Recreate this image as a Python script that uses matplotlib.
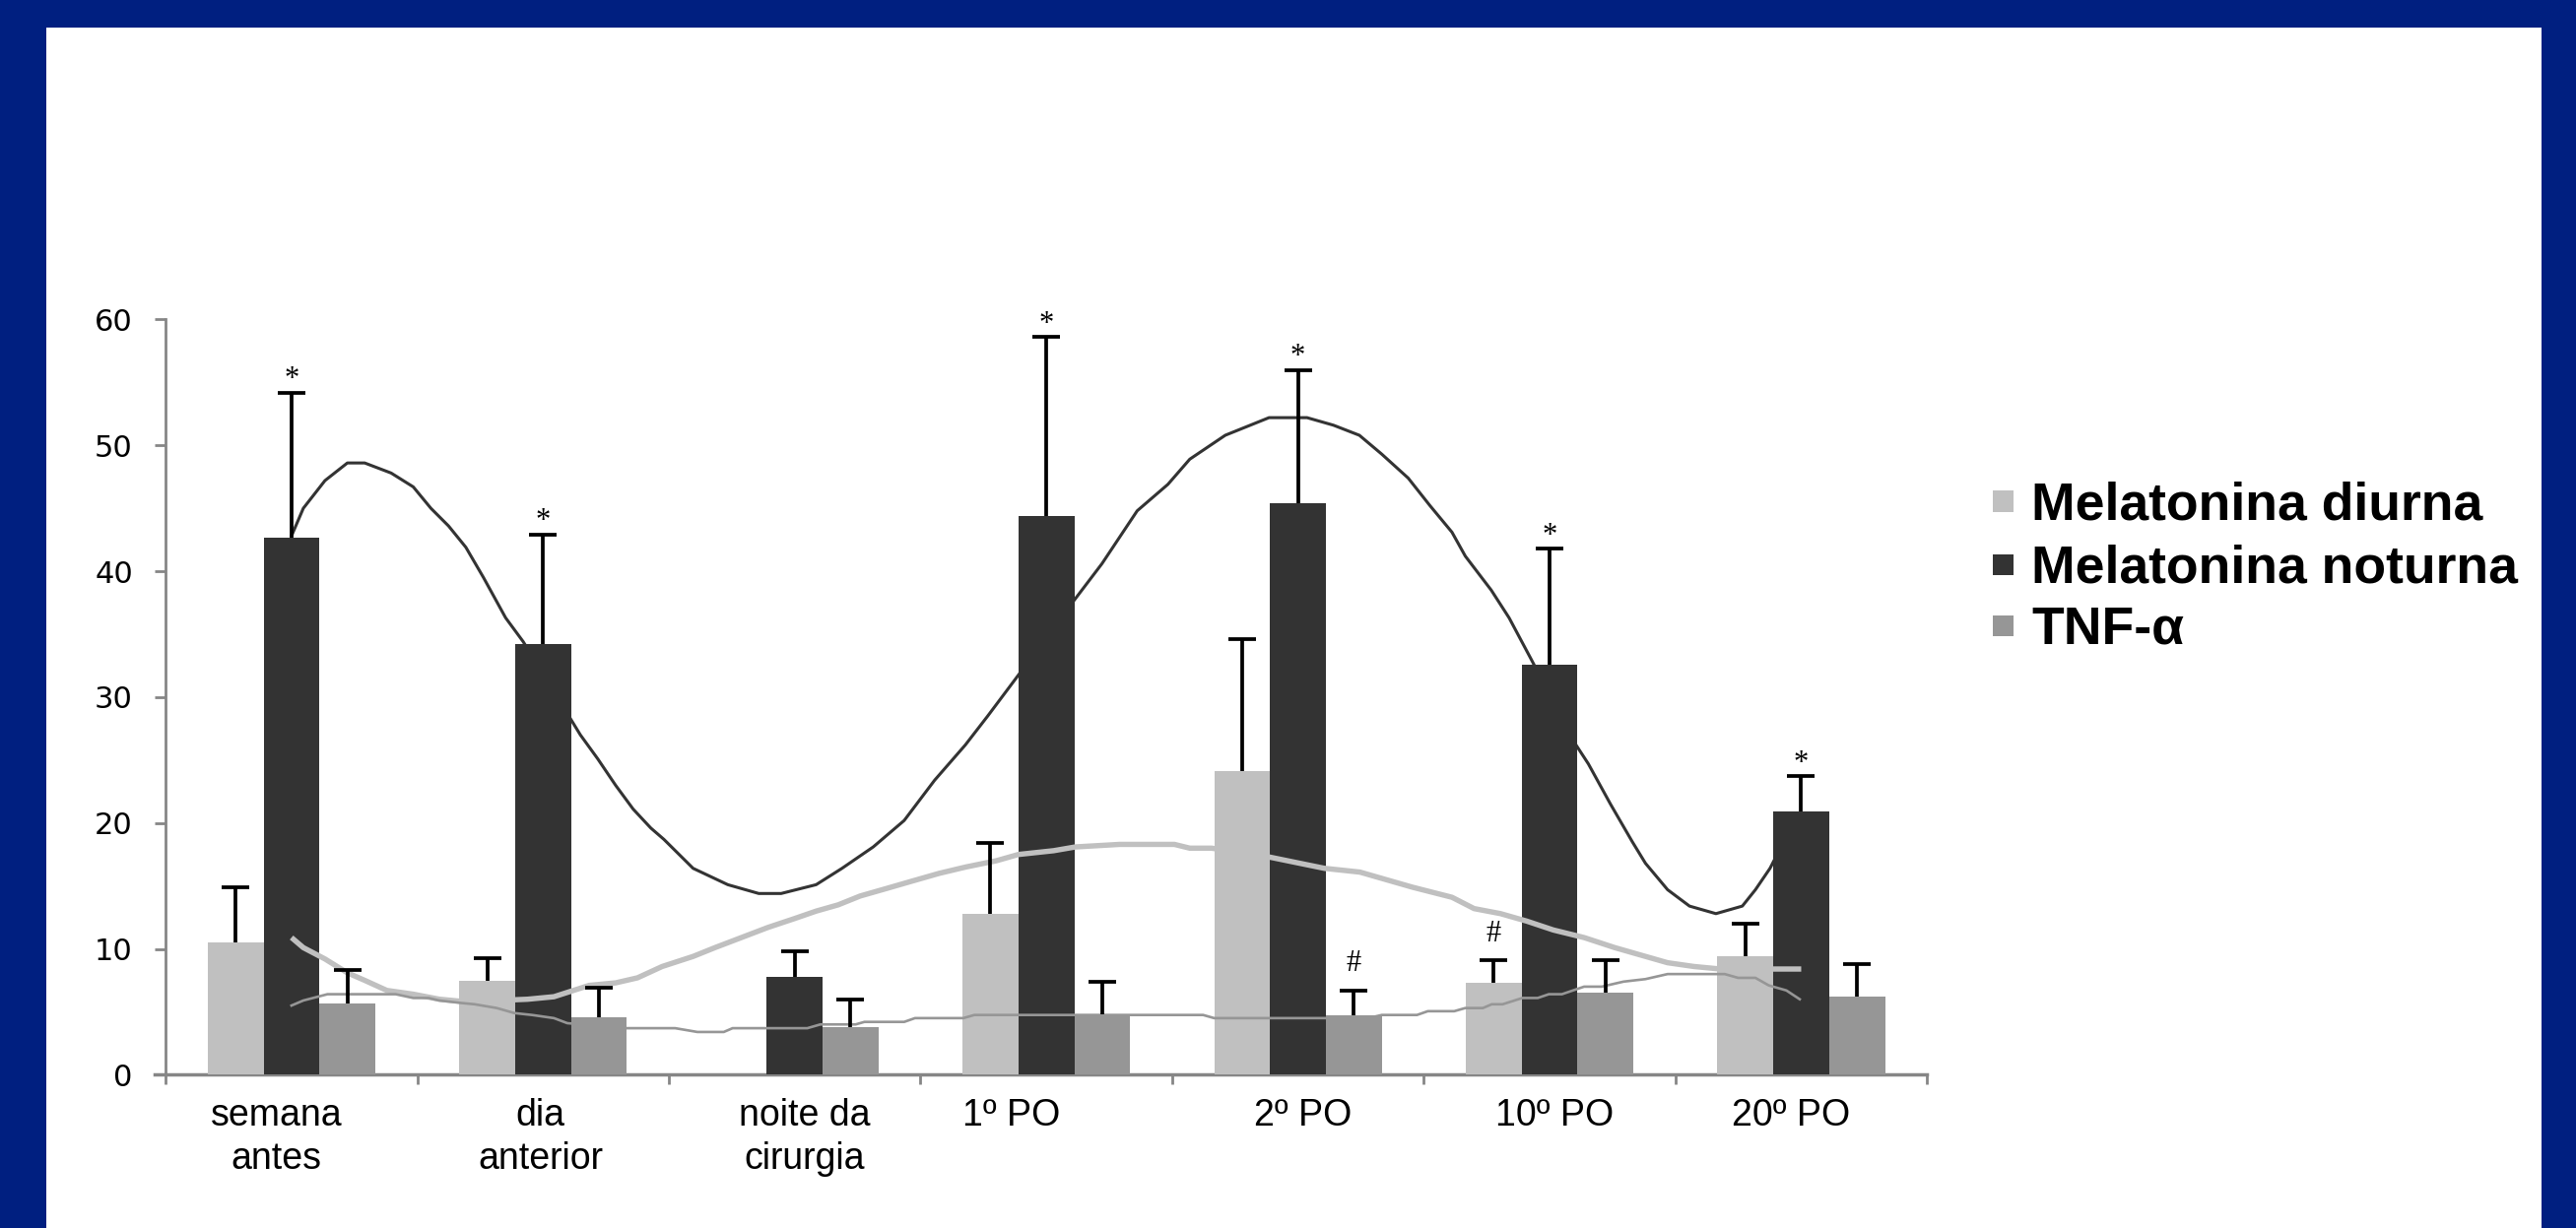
import numpy as np
import matplotlib
matplotlib.use('Agg')
import matplotlib.pyplot as plt
from matplotlib.patches import Rectangle

# dados
categorias = ['semana\nantes', 'dia\nanterior', 'noite da\ncirurgia', '1º PO', '2º PO', '10º PO', '20º PO']
mel_diurna = [10.5, 7.5, 0, 12.8, 24.1, 7.3, 9.4]
mel_diurna_err = [4.4, 1.8, 0, 5.6, 10.5, 1.8, 2.6]
mel_noturna = [42.7, 34.2, 7.8, 44.4, 45.4, 32.6, 20.9]
mel_noturna_err = [11.5, 8.7, 2.0, 14.2, 10.6, 9.2, 2.8]
tnf = [5.7, 4.6, 3.8, 4.8, 4.7, 6.5, 6.2]
tnf_err = [2.6, 2.3, 2.2, 2.6, 2.0, 2.6, 2.6]

legendas = ['Melatonina diurna', 'Melatonina noturna', 'TNF-α']

# simbolos de significancia: serie (0 diurna, 1 noturna, 2 tnf), categoria, simbolo
marcas_serie = [1, 1, 1, 1, 1, 1, 2, 0]
marcas_cat = [0, 1, 3, 4, 5, 6, 4, 5]
marcas_sim = ['*', '*', '*', '*', '*', '*', '#', '#']

# linhas de tendencia (x em unidades de categoria)
noturna_x = [0.0, 0.047, 0.133, 0.222, 0.291, 0.396, 0.484, 0.554, 0.624, 0.693, 0.763, 0.851,
             0.921, 1.096, 1.148, 1.217, 1.288, 1.358, 1.428, 1.48, 1.596, 1.734, 1.857, 1.946,
             2.085, 2.188, 2.312, 2.435, 2.556, 2.678, 2.767, 2.872, 3.107, 3.221, 3.361, 3.483,
             3.57, 3.711, 3.885, 4.036, 4.141, 4.244, 4.333, 4.438, 4.525, 4.612, 4.665, 4.768,
             4.839, 4.927, 5.105, 5.154, 5.242, 5.329, 5.381, 5.469, 5.556, 5.661, 5.766, 5.818,
             5.876, 5.93]
noturna_y = [42.8, 45.0, 47.2, 48.6, 48.6, 47.8, 46.7, 45.0, 43.6, 41.9, 39.5, 36.3,
             34.4, 28.7, 27.0, 25.1, 23.0, 21.1, 19.6, 18.7, 16.4, 15.1, 14.4, 14.4,
             15.1, 16.4, 18.1, 20.2, 23.4, 26.2, 28.5, 31.3, 37.6, 40.6, 44.8, 46.9,
             48.9, 50.8, 52.2, 52.2, 51.6, 50.8, 49.3, 47.4, 45.2, 43.1, 41.2, 38.5,
             36.3, 33.0, 26.2, 24.7, 21.5, 18.5, 16.8, 14.7, 13.4, 12.8, 13.4, 14.7,
             16.4, 18.5]

diurna_x = [0.0, 0.047, 0.133, 0.222, 0.291, 0.379, 0.484, 0.588, 0.693, 0.816, 0.938, 1.043,
            1.183, 1.288, 1.375, 1.473, 1.596, 1.683, 1.788, 1.893, 1.998, 2.085, 2.173, 2.26,
            2.365, 2.469, 2.574, 2.679, 2.801, 2.889, 3.029, 3.116, 3.291, 3.509, 3.57, 3.657,
            3.885, 4.007, 4.105, 4.246, 4.333, 4.455, 4.612, 4.7, 4.805, 4.91, 5.015, 5.137,
            5.259, 5.364, 5.469, 5.574, 5.679, 6.0]
diurna_y = [10.9, 10.1, 9.2, 8.1, 7.5, 6.7, 6.4, 6.0, 5.8, 5.9, 6.0, 6.2,
            7.1, 7.3, 7.7, 8.6, 9.4, 10.1, 10.9, 11.7, 12.4, 13.0, 13.5, 14.2,
            14.8, 15.4, 16.0, 16.5, 17.0, 17.5, 17.8, 18.1, 18.3, 18.3, 18.0, 18.0,
            17.3, 16.8, 16.4, 16.1, 15.6, 14.9, 14.1, 13.2, 12.8, 12.2, 11.5, 10.9,
            10.1, 9.5, 8.9, 8.6, 8.4, 8.4]

tnf_x = [0.0, 0.047, 0.143, 0.414, 0.484, 0.545, 0.588, 0.676, 0.728, 0.816, 0.886, 0.956,
         1.043, 1.096, 1.323, 1.525, 1.613, 1.718, 1.753, 2.05, 2.102, 2.242, 2.277, 2.435,
         2.478, 2.67, 2.714, 3.623, 3.667, 4.28, 4.333, 4.473, 4.516, 4.621, 4.665, 4.735,
         4.77, 4.813, 4.892, 4.953, 4.997, 5.049, 5.137, 5.207, 5.294, 5.381, 5.469, 5.696,
         5.749, 5.818, 5.871, 5.941, 5.994]
tnf_y = [5.5, 5.9, 6.4, 6.4, 6.1, 6.1, 5.9, 5.7, 5.6, 5.3, 4.9, 4.75,
         4.5, 4.1, 3.7, 3.7, 3.4, 3.4, 3.7, 3.7, 4.0, 4.0, 4.2, 4.2,
         4.5, 4.5, 4.75, 4.75, 4.5, 4.5, 4.75, 4.75, 5.05, 5.05, 5.3, 5.3,
         5.6, 5.6, 6.1, 6.1, 6.4, 6.4, 7.0, 7.0, 7.4, 7.6, 8.0, 8.0,
         7.7, 7.7, 7.1, 6.7, 6.0]

# deslocamento dos rotulos do eixo x (como no original)
desloc_rotulos = [-0.06, -0.01, 0.04, -0.14, 0.02, 0.02, -0.04]

cores = ['#c0c0c0', '#333333', '#969696']
azul = '#001f80'
cinza_eixo = '#868686'

W, H = 2615, 1247
fig = plt.figure(figsize=(W / 100, H / 100), dpi=100, facecolor=azul)
fig.add_artist(Rectangle((47 / W, 0), (2580 - 47) / W, (H - 28) / H,
                         transform=fig.transFigure, facecolor='white', edgecolor='none', zorder=0))

ax = fig.add_axes([156.7 / W, 1 - 1091.4 / H, (1956.2 - 156.7) / W, (1091.4 - 324.4) / H])
ax.set_facecolor('none')

x = np.arange(len(categorias))
w = 0.222
dados = [(mel_diurna, mel_diurna_err), (mel_noturna, mel_noturna_err), (tnf, tnf_err)]
for k, (vals, errs) in enumerate(dados):
    dx = (k - 1) * w
    vals = np.array(vals, dtype=float)
    errs = np.array(errs, dtype=float)
    ax.bar(x + dx, vals, width=w, color=cores[k], zorder=3)
    ok = errs > 0
    eb = ax.errorbar(x[ok] + dx, vals[ok], yerr=[np.zeros(ok.sum()), errs[ok]], fmt='none',
                     ecolor='black', elinewidth=2.7, capsize=10, capthick=2.7, zorder=4)
    # so a barra de cima (formato "T")
    eb[1][0].set_visible(False)

ax.plot(noturna_x, noturna_y, color='#333333', lw=2.2, zorder=2)
ax.plot(diurna_x, diurna_y, color='#c0c0c0', lw=3.9, zorder=3.5, solid_capstyle='butt')
ax.plot(tnf_x, tnf_y, color='#969696', lw=1.9, zorder=3.5)

# asteriscos e cerquilhas
for s, c, sim in zip(marcas_serie, marcas_cat, marcas_sim):
    vals, errs = dados[s]
    topo = vals[c] + errs[c]
    off = 4 if sim == '*' else 14
    ax.annotate(sim, xy=(c + (s - 1) * w, topo), xytext=(0, off), textcoords='offset points',
                ha='center', va='baseline', fontsize=22, family='Liberation Serif', zorder=6)

ax.set_ylim(0, 60)
ax.set_xlim(-0.545, 6.5)
ax.spines['top'].set_visible(False)
ax.spines['right'].set_visible(False)
ax.spines['left'].set_position(('data', -0.5))
ax.spines['left'].set_color(cinza_eixo)
ax.spines['left'].set_linewidth(2.0)
ax.spines['bottom'].set_color(cinza_eixo)
ax.spines['bottom'].set_linewidth(2.5)

ax.set_yticks(range(0, 61, 10))
ax.tick_params(axis='y', length=8, width=2, color=cinza_eixo, pad=16, labelsize=22)
for lbl in ax.get_yticklabels():
    lbl.set_family('DejaVu Sans')

ax.set_xticks(np.arange(-0.5, 7, 1))
ax.set_xticklabels([])
ax.set_xticks(x + np.array(desloc_rotulos), labels=categorias, minor=True)
ax.tick_params(axis='x', which='major', length=7, width=2, color=cinza_eixo)
ax.tick_params(axis='x', which='minor', length=0, pad=17, labelsize=27)
for lbl in ax.get_xticklabels(minor=True):
    lbl.set_family('Liberation Sans')
    lbl.set_linespacing(1.28)

# legenda manual
base_y = [528, 592, 654]
for k, nome in enumerate(legendas):
    cy = base_y[k] - 19
    fig.add_artist(Rectangle((2023 / W, 1 - (cy + 10.5) / H), 21 / W, 21 / H,
                             transform=fig.transFigure, facecolor=cores[k], edgecolor='none'))
    fig.text(2062 / W, 1 - base_y[k] / H, nome, ha='left', va='baseline',
             fontsize=38.5, fontweight='bold', family='Liberation Sans')

fig.savefig('out.png', dpi=100, facecolor=azul)
